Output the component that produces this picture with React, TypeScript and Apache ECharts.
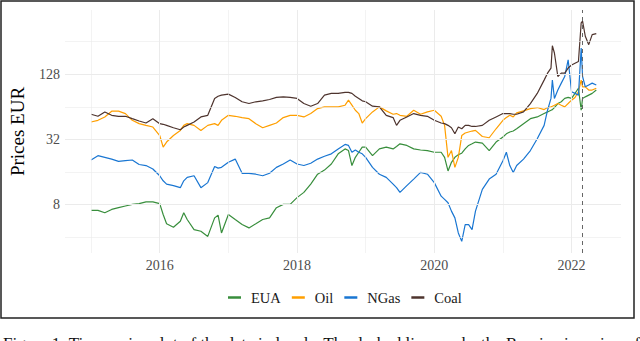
import React, { useEffect, useRef } from "react";
import * as echarts from "echarts";

// Decimal-year sample dates
const dates = [
  2015.0, 2015.1, 2015.2, 2015.3, 2015.4, 2015.5, 2015.6, 2015.7, 2015.8, 2015.9,
  2016.0, 2016.05, 2016.1, 2016.2, 2016.3, 2016.35, 2016.4, 2016.5, 2016.6, 2016.7, 2016.8, 2016.85, 2016.9,
  2017.0, 2017.1, 2017.2, 2017.3, 2017.4, 2017.5, 2017.6, 2017.7, 2017.8, 2017.9,
  2018.0, 2018.1, 2018.2, 2018.3, 2018.4, 2018.5, 2018.6, 2018.7, 2018.75, 2018.8, 2018.85, 2018.9, 2018.95,
  2019.0, 2019.1, 2019.2, 2019.3, 2019.4, 2019.45, 2019.5, 2019.6, 2019.7, 2019.8, 2019.9,
  2020.0, 2020.1, 2020.15, 2020.2, 2020.25, 2020.3, 2020.35, 2020.4, 2020.45, 2020.5, 2020.55, 2020.6, 2020.7, 2020.8, 2020.9,
  2021.0, 2021.05, 2021.1, 2021.15, 2021.2, 2021.3, 2021.4, 2021.5, 2021.6, 2021.65, 2021.7, 2021.72, 2021.75, 2021.8, 2021.85, 2021.9, 2021.95,
  2022.0, 2022.05, 2022.1, 2022.14, 2022.16, 2022.2, 2022.25, 2022.3, 2022.36,
];

// Prices in EUR
const eua = [
  7.09, 7.09, 6.74, 7.24, 7.51, 7.78, 8.06, 8.2, 8.5, 8.5,
  8.2, 6.5, 5.34, 4.96, 5.64, 6.74, 5.84, 4.72, 4.55, 4.08, 6.05, 6.4, 4.39,
  6.5, 5.84, 5.25, 4.89, 5.34, 5.84, 6.05, 7.51, 8.06, 8.06,
  9.3, 10.4, 12.4, 15.3, 16.7, 19.0, 23.6, 26.2, 25.3, 18.4, 21.9, 24.4, 27.2,
  27.2, 22.7, 26.2, 27.2, 26.2, 27.6, 29.2, 28.2, 26.2, 25.6, 25.3,
  24.4, 24.4, 21.9, 16.4, 19.7, 21.9, 23.2, 23.9, 26.2, 28.2, 29.2, 30.3, 29.6, 25.3, 30.3,
  33.7, 36.1, 37.5, 38.3, 40.2, 44.8, 49.8, 51.7, 55.5, 57.5, 59.6, 60.4, 63.1, 68.7, 71.3, 76.6, 78.2,
  76.6, 85.2, 95, 59.6, 76.6, 79.2, 82.2, 85.2, 91.5,
];

const oil = [
  46.4, 48.1, 51.7, 58.4, 58.4, 55.5, 48.1, 44.8, 43.2, 41.7,
  34.8, 27.2, 30.3, 34.8, 38.8, 43.2, 44.8, 43.2, 38.8, 43.2, 44.8, 43.2, 48.1,
  53.5, 52.4, 51.0, 49.8, 44.8, 41.1, 43.2, 45.4, 51.0, 53.5,
  53.5, 51.7, 55.5, 61.7, 64, 64, 64, 66.3, 73.8, 66.3, 59.6, 55.5, 45.4,
  49.8, 57.5, 64, 58.8, 54.7, 55.5, 53.5, 52.4, 59.6, 54.7, 57.5,
  59.6, 52.4, 43.2, 21.9, 25.3, 17.7, 21.9, 34.8, 36.7, 37.5, 38.3, 38.8, 34.1, 33.2, 40.2,
  48.1, 51.0, 53.5, 51.7, 56.3, 58.8, 61.7, 63.1, 60.4, 63.1, 64, 64.9, 66.3, 68.7, 66.3, 64, 68.7,
  73.8, 78.2, 88.3, 113, 98, 98, 91.5, 91.5, 95,
];

const ngas = [
  20.7, 22.7, 21.9, 21.1, 20.1, 20.4, 20.7, 18.8, 18.4, 17.1,
  14.8, 13.3, 12.4, 12.0, 11.5, 13.3, 14.3, 14.8, 11.5, 12.8, 18.0, 17.4, 17.7,
  19.7, 21.1, 15.6, 15.6, 15.3, 14.8, 15.6, 17.7, 19.0, 20.7,
  19.0, 18.4, 19.3, 21.1, 22.4, 23.6, 26.2, 28.8, 28.2, 24.4, 25.6, 24.4, 23.6,
  21.9, 17.7, 15.3, 14.3, 12.4, 11.5, 10.4, 12.0, 13.8, 15.9, 15.3,
  12.8, 9.6, 8.97, 8.35, 6.98, 6.05, 4.39, 3.67, 5.25, 5.25, 4.72, 6.98, 11.1, 13.8, 15.3,
  20.4, 24.4, 18.4, 15.9, 18.4, 21.1, 25.3, 32.5, 43.2, 59.6, 76.6, 113, 76.6, 91.5, 106, 122, 174,
  88.3, 85.2, 82.2, 223, 122, 98, 102, 106, 102,
];

const coal = [
  54.7, 52.4, 57.5, 53.5, 52.4, 52.4, 49.8, 47.4, 45.4, 49.8,
  44.8, 44.2, 43.2, 41.1, 39.4, 41.7, 43.2, 46.4, 51.7, 53.5, 76.6, 80.2, 82.2,
  83.9, 78.2, 71.3, 68.7, 71.3, 72.8, 74.9, 78.2, 79.2, 78.2,
  76.6, 68.7, 64.9, 68.7, 82.2, 85.2, 85.2, 87.1, 87.1, 85.2, 80.2, 76.6, 72.8,
  71.3, 64.9, 64, 53.5, 51.0, 43.2, 48.1, 51.7, 55.5, 53.5, 52.4,
  48.1, 45.4, 44.8, 43.2, 41.1, 36.1, 41.7, 40.2, 43.2, 43.2, 42.2, 42.2, 43.2, 48.1, 51.7,
  55.5, 55.5, 55.5, 54.7, 54.7, 57.5, 68.7, 85.2, 113, 131, 146, 235, 201, 122, 131, 131, 146,
  156, 162, 168, 382, 396, 287, 240, 297, 304,
];

const seriesNames = ["EUA", "Oil", "NGas", "Coal"];
const seriesColors = ["#388E3C", "#FF9F00", "#1976D2", "#4E342E"];
const yTickPrices = [8, 32, 128];
const yMinorPrices = [4, 16, 64, 256];
const xTickYears = [2016, 2018, 2020, 2022];
const xMinorYears = [2015, 2017, 2019, 2021];
const invasionDate = 2022.148;
const caption =
  "Figure 1: Time series plot of the data in levels. The dashed line marks the Russian invasion of Ukraine.";

const FONT = "Liberation Serif, serif";

export default function App() {
  const ref = useRef<HTMLDivElement>(null);

  useEffect(() => {
    if (!ref.current) return;
    const chart = echarts.init(ref.current, undefined, { renderer: "svg" });
    const all = [eua, oil, ngas, coal];
    const gridColor = "#ebebeb";

    const gridLines: any[] = [
      ...xTickYears.map((y) => ({ xAxis: y, lineStyle: { width: 1, color: gridColor, type: "solid" } })),
      ...xMinorYears.map((y) => ({ xAxis: y, lineStyle: { width: 0.6, color: gridColor, type: "solid" } })),
      ...yTickPrices.map((p) => ({ yAxis: Math.log2(p), lineStyle: { width: 1, color: gridColor, type: "solid" } })),
      ...yMinorPrices.map((p) => ({ yAxis: Math.log2(p), lineStyle: { width: 0.6, color: gridColor, type: "solid" } })),
    ];

    chart.setOption({
      animation: false,
      textStyle: { fontFamily: FONT },
      grid: { left: 54, right: 19, top: 10, bottom: 88 },
      xAxis: {
        type: "value",
        min: 2014.62,
        max: 2022.72,
        axisLine: { show: false },
        axisTick: { show: false },
        splitLine: { show: false },
        axisLabel: {
          customValues: xTickYears,
          formatter: (v: number) => String(Math.round(v)),
          color: "#4d4d4d",
          fontFamily: FONT,
          fontSize: 14,
          margin: 5,
        },
      },
      yAxis: {
        type: "value",
        min: 1.52,
        max: 8.97,
        name: "Prices EUR",
        nameLocation: "middle",
        nameRotate: 90,
        nameGap: 38,
        nameTextStyle: { fontFamily: FONT, fontSize: 19, color: "#000" },
        axisLine: { show: false },
        axisTick: { show: false },
        splitLine: { show: false },
        axisLabel: {
          customValues: yTickPrices.map((p) => Math.log2(p)),
          formatter: (v: number) => String(Math.round(Math.pow(2, v))),
          color: "#4d4d4d",
          fontFamily: FONT,
          fontSize: 14,
          margin: 5,
        },
      },
      legend: {
        data: seriesNames,
        left: 223,
        top: 285,
        icon: "rect",
        itemWidth: 13,
        itemHeight: 2.5,
        itemGap: 11,
        textStyle: { fontFamily: FONT, fontSize: 14.5, color: "#1a1a1a", padding: [0, 0, 0, 5] },
      },
      graphic: [
        {
          type: "rect",
          shape: { x: 1, y: 1, width: 633, height: 317 },
          style: { fill: "none", stroke: "#222", lineWidth: 1.5 },
          silent: true,
        },
        {
          type: "text",
          left: 3,
          top: 335,
          style: { text: caption, fontFamily: FONT, fontSize: 17, fill: "#111" },
          silent: true,
        },
      ],
      series: [
        {
          name: "grid",
          type: "line",
          data: [],
          z: 0,
          silent: true,
          markLine: { silent: true, symbol: "none", label: { show: false }, data: gridLines },
        },
        ...seriesNames.map((name, k) => ({
          name,
          type: "line",
          data: dates.map((t, i) => [t, Math.log2(all[k][i])]),
          showSymbol: false,
          symbol: "none",
          z: 3,
          color: seriesColors[k],
          lineStyle: { width: 1.2, color: seriesColors[k] },
        })),
        {
          name: "invasion",
          type: "line",
          data: [],
          z: 5,
          silent: true,
          markLine: {
            silent: true,
            symbol: "none",
            label: { show: false },
            lineStyle: { type: [4, 4], color: "#666", width: 1 },
            data: [{ xAxis: invasionDate }],
          },
        },
      ],
    });
    return () => chart.dispose();
  }, []);

  return (
    <div
      ref={ref}
      style={{ position: "absolute", left: 0, top: 0, width: 640, height: 341, background: "#fff" }}
    />
  );
}
